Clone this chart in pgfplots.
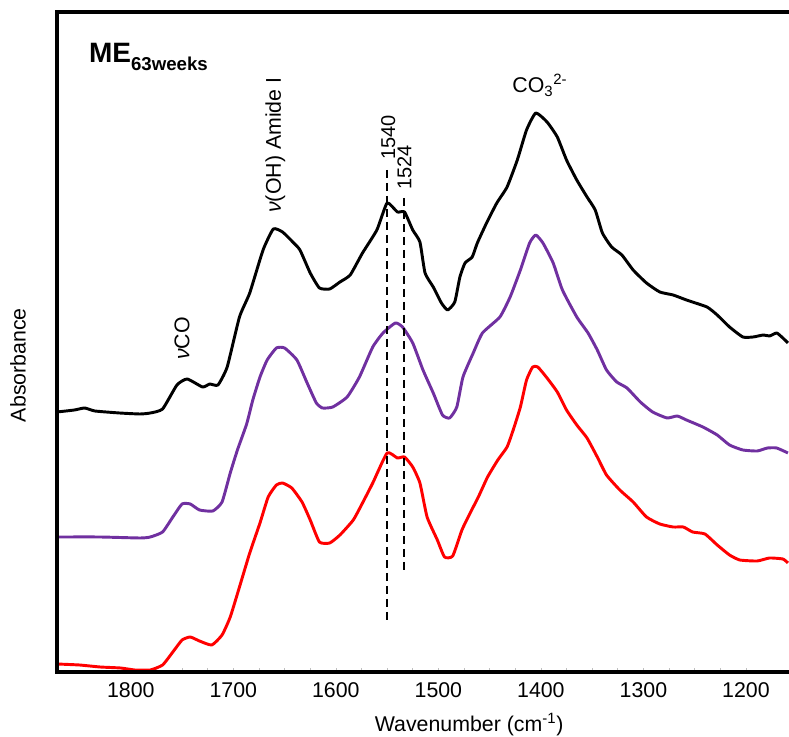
\documentclass[border=0pt]{standalone}
\usepackage{fontspec}
\setmainfont{Liberation Sans}
\usepackage{pgfplots}
\pgfplotsset{compat=1.18}
\definecolor{mypurple}{HTML}{7030A0}
\begin{document}
\begin{tikzpicture}
\begin{axis}[
  scale only axis, width=549pt, height=495pt,
  x dir=reverse, xmin=1158, xmax=1872, ymin=0, ymax=660,
  clip=false,
  axis line style={draw=none},
  xtick={1200,1300,1400,1500,1600,1700,1800},
  minor x tick num=3,
  ytick=\empty,
  xtick pos=bottom,
  tick align=inside,
  major tick length=3pt, minor tick length=3pt,
  every tick/.style={gray!50, line width=0.5pt},
  /pgf/number format/1000 sep={},
  /pgf/number format/assume math mode=true,
  xticklabel style={font=\fontsize{16}{19}\selectfont, anchor=base, yshift=-19.5pt},
  spec/.style={line width=2.2pt, line join=round, smooth, tension=0.3},
]
\coordinate (bl) at (rel axis cs:-0.07787,-0.09848);
\coordinate (tr) at (rel axis cs:1,1.01818);

\addplot[red, spec] coordinates {
(1872,8) (1850,7) (1830,5) (1810,4) (1796,2) (1781,2) (1769,7) (1759,20) (1750,32) (1742,35) (1733,31)
(1721,27) (1711,37) (1703,55) (1694,85) (1684,119) (1674,149) (1666,175) (1658,187)
(1652,189) (1643,184) (1633,170) (1625,152) (1616,130) (1606,129) (1596,137) (1583,152)
(1574,169) (1564,189) (1550,219) (1540,214) (1533,215) (1525,205) (1518,189) (1511,155)
(1501,132) (1494,115) (1486,116) (1477,142) (1469,159) (1461,175) (1452,195) (1442,212)
(1433,225) (1427,242) (1420,265) (1414,292) (1408,305) (1403,305) (1394,294) (1384,280)
(1375,262) (1365,247) (1355,234) (1345,215) (1336,197) (1323,182) (1310,170) (1297,155)
(1284,148) (1271,145) (1261,145) (1252,140) (1240,138) (1228,127) (1216,117) (1206,112)
(1189,111) (1177,114) (1164,113) (1159,109)
};

\addplot[mypurple, spec] coordinates {
(1872,135) (1830,135) (1791,134) (1781,135) (1769,140) (1759,155) (1750,168) (1742,168)
(1733,162) (1720,161) (1711,170) (1703,199) (1696,222) (1687,248) (1681,272)
(1674,295) (1667,312) (1658,324) (1650,324) (1638,312) (1628,289) (1619,269) (1613,264) (1603,265)
(1589,275) (1577,295) (1564,325) (1554,339) (1542,349) (1535,345) (1525,329) (1515,302)
(1505,279) (1496,257) (1489,254) (1482,265) (1476,295) (1466,319) (1457,339) (1440,355)
(1430,375) (1420,402) (1411,429) (1405,437) (1398,429) (1388,409) (1379,382) (1365,355)
(1354,339) (1345,322) (1336,302) (1326,290) (1316,284) (1303,270) (1291,260) (1277,254)
(1267,256) (1258,252) (1242,245) (1228,237) (1216,227) (1203,222) (1189,221) (1179,224)
(1170,224) (1159,219)
};

\addplot[black, spec] coordinates {
(1872,260) (1855,262) (1845,264) (1835,261) (1811,259) (1791,258) (1781,259) (1769,263)
(1755,287) (1745,293) (1730,285) (1723,288) (1715,287) (1706,305) (1694,355) (1684,379)
(1671,422) (1661,443) (1652,440) (1642,430) (1635,422) (1625,399) (1616,384) (1606,383)
(1596,390) (1586,397) (1574,419) (1560,442) (1550,469) (1540,460) (1533,460) (1525,442)
(1518,430) (1513,399) (1505,385) (1497,369) (1491,362) (1484,370) (1479,395) (1474,409)
(1467,415) (1462,429) (1453,449) (1443,469) (1433,485) (1423,512) (1414,542) (1405,559)
(1394,550) (1384,535) (1375,512) (1365,492) (1355,475) (1347,462) (1340,439) (1331,425)
(1321,417) (1310,402) (1297,389) (1284,380) (1271,377) (1258,372) (1238,365) (1228,357)
(1216,345) (1203,335) (1193,335) (1183,337) (1177,336) (1170,339) (1164,334) (1159,329)
};

\addplot[black, line width=1.2pt, dash pattern=on 6pt off 3.75pt] coordinates {(1550,502) (1550,52)};
\addplot[black, line width=1.2pt, dash pattern=on 6pt off 3.75pt] coordinates {(1533.3,474) (1533.3,100)};

\draw[line width=2.6pt, line cap=rect] (rel axis cs:1,1) -- (rel axis cs:0,1) -- (rel axis cs:0,0) -- (rel axis cs:1,0);

\node[anchor=base west, inner sep=0] at (axis cs:1841,609)
  {\bfseries\fontsize{21}{25}\selectfont ME\raisebox{-6pt}{\fontsize{14}{16}\selectfont 63weeks}};
\node[anchor=base, inner sep=0, font=\fontsize{16}{19}\selectfont] at (axis cs:1401,579)
  {CO\textsubscript{3}\textsuperscript{2-}};
\node[rotate=90, anchor=west, inner sep=0, font=\fontsize{16}{19}\selectfont] at (axis cs:1659,459)
  {\textit{ν}(OH) Amide I};
\node[rotate=90, anchor=west, inner sep=0, font=\fontsize{16}{19}\selectfont] at (axis cs:1750,312)
  {\textit{ν}CO};
\node[rotate=90, anchor=west, inner sep=0, font=\fontsize{15}{18}\selectfont] at (axis cs:1549,512)
  {1540};
\node[rotate=90, anchor=west, inner sep=0, font=\fontsize{15}{18}\selectfont] at (axis cs:1533,482)
  {1524};
\node[rotate=90, font=\fontsize{16}{19}\selectfont] at (rel axis cs:-0.0533,0.465) {Absorbance};
\node[anchor=base, font=\fontsize{16}{19}\selectfont] at (rel axis cs:0.563,-0.0909)
  {Wavenumber (cm\textsuperscript{-1})};
\end{axis}
\pgfresetboundingbox
\path (bl) rectangle (tr);
\end{tikzpicture}
\end{document}
